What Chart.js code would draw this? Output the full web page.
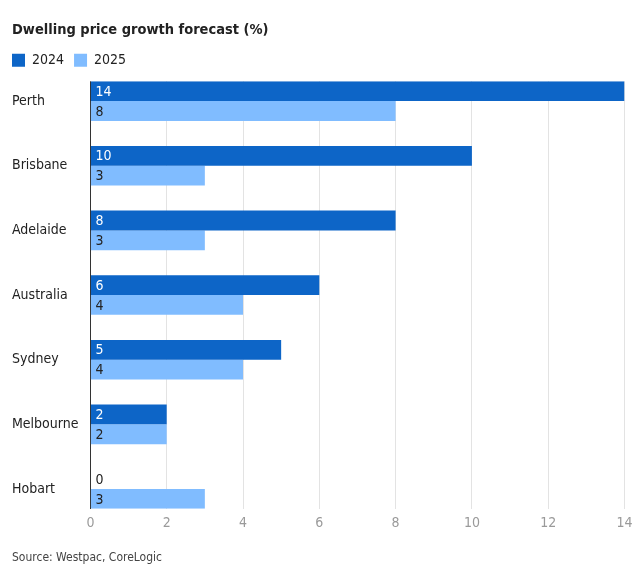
<!DOCTYPE html>
<html>
<head>
<meta charset="utf-8">
<script src="https://cdn.jsdelivr.net/npm/chart.js@4.4.1/dist/chart.umd.min.js"></script>
<style>
  html, body { margin: 0; padding: 0; background: #fff; }
  #wrap { width: 644px; height: 573px; position: relative; }
</style>
</head>
<body>
<div id="wrap"><canvas id="c" width="644" height="573"></canvas></div>
<script>
const categories = ["Perth", "Brisbane", "Adelaide", "Australia", "Sydney", "Melbourne", "Hobart"];
const values2024 = [14, 10, 8, 6, 5, 2, 0];
const values2025 = [8, 3, 3, 4, 4, 2, 3];
const seriesNames = ["2024", "2025"];
const xTicks = [0, 2, 4, 6, 8, 10, 12, 14];

const FONT = "'DejaVu Sans Condensed', 'DejaVu Sans', sans-serif";
const DARK = "#0d65c7";
const LIGHT = "#80bcff";
const CAT_PCT = 0.613;

const valueLabels = {
  id: 'valueLabels',
  afterDatasetsDraw(chart) {
    const ctx = chart.ctx;
    const left = chart.scales.x.getPixelForValue(0);
    ctx.save();
    ctx.font = "14px " + FONT;
    ctx.textBaseline = "middle";
    ctx.textAlign = "left";
    chart.data.datasets.forEach((ds, di) => {
      chart.getDatasetMeta(di).data.forEach((bar, i) => {
        const v = ds.data[i];
        ctx.fillStyle = (di === 0 && v > 0) ? "#ffffff" : "#222222";
        ctx.fillText(String(v), left + 5, bar.y + 1);
      });
    });
    ctx.restore();
  }
};

// Chart area spans exactly the bar groups: extend the category mapping
// so the first/last bar group edges meet the chart area edges.
const layoutTweak = {
  id: 'layoutTweak',
  afterLayout(chart) {
    const y = chart.scales.y;
    y._startValue = -CAT_PCT / 2;
    y._valueRange = (categories.length - 1) + CAT_PCT;
    if (chart.legend) {
      chart.legend.left -= 10;
      chart.legend.right -= 10;
      chart.legend.top -= 4;
      chart.legend.bottom -= 4;
    }
  }
};

new Chart(document.getElementById('c'), {
  type: 'bar',
  data: {
    labels: categories,
    datasets: [
      { label: seriesNames[0], data: values2024, backgroundColor: DARK, borderWidth: 0 },
      { label: seriesNames[1], data: values2025, backgroundColor: LIGHT, borderWidth: 0 }
    ]
  },
  options: {
    indexAxis: 'y',
    responsive: false,
    animation: false,
    maintainAspectRatio: false,
    categoryPercentage: CAT_PCT,
    barPercentage: 1.0,
    layout: { padding: { left: 12, right: 19.5, top: 0, bottom: 0 } },
    plugins: {
      title: {
        display: true,
        text: "Dwelling price growth forecast (%)",
        align: 'start',
        color: "#222222",
        font: { family: FONT, size: 14.5, weight: 'bold', lineHeight: 1.2 },
        padding: { top: 21.3, bottom: 8.6 }
      },
      legend: {
        display: true,
        align: 'start',
        labels: {
          boxWidth: 13,
          boxHeight: 13,
          padding: 10,
          color: "#222222",
          font: { family: FONT, size: 14 }
        }
      },
      subtitle: {
        display: true,
        position: 'bottom',
        align: 'start',
        text: "Source: Westpac, CoreLogic",
        color: "#444444",
        font: { family: FONT, size: 12, lineHeight: 1.2 },
        padding: { top: 12.3, bottom: 7.9 }
      },
      tooltip: { enabled: false }
    },
    scales: {
      x: {
        type: 'linear',
        min: 0,
        max: 14,
        grid: {
          display: true,
          drawTicks: false,
          drawOnChartArea: true,
          lineWidth: 1,
          color: (c) => (c.tick && c.tick.value === 0) ? "#333333" : "#e3e3e3"
        },
        border: { display: false },
        ticks: {
          stepSize: 2,
          padding: 6.4,
          color: "#9a9a9a",
          font: { family: FONT, size: 14 }
        }
      },
      y: {
        grid: { display: false },
        border: { display: false },
        afterFit(scale) { scale.width = 78.4; },
        ticks: {
          crossAlign: 'far',
          color: "#222222",
          font: { family: FONT, size: 14 }
        }
      }
    }
  },
  plugins: [valueLabels, layoutTweak]
});
</script>
</body>
</html>
